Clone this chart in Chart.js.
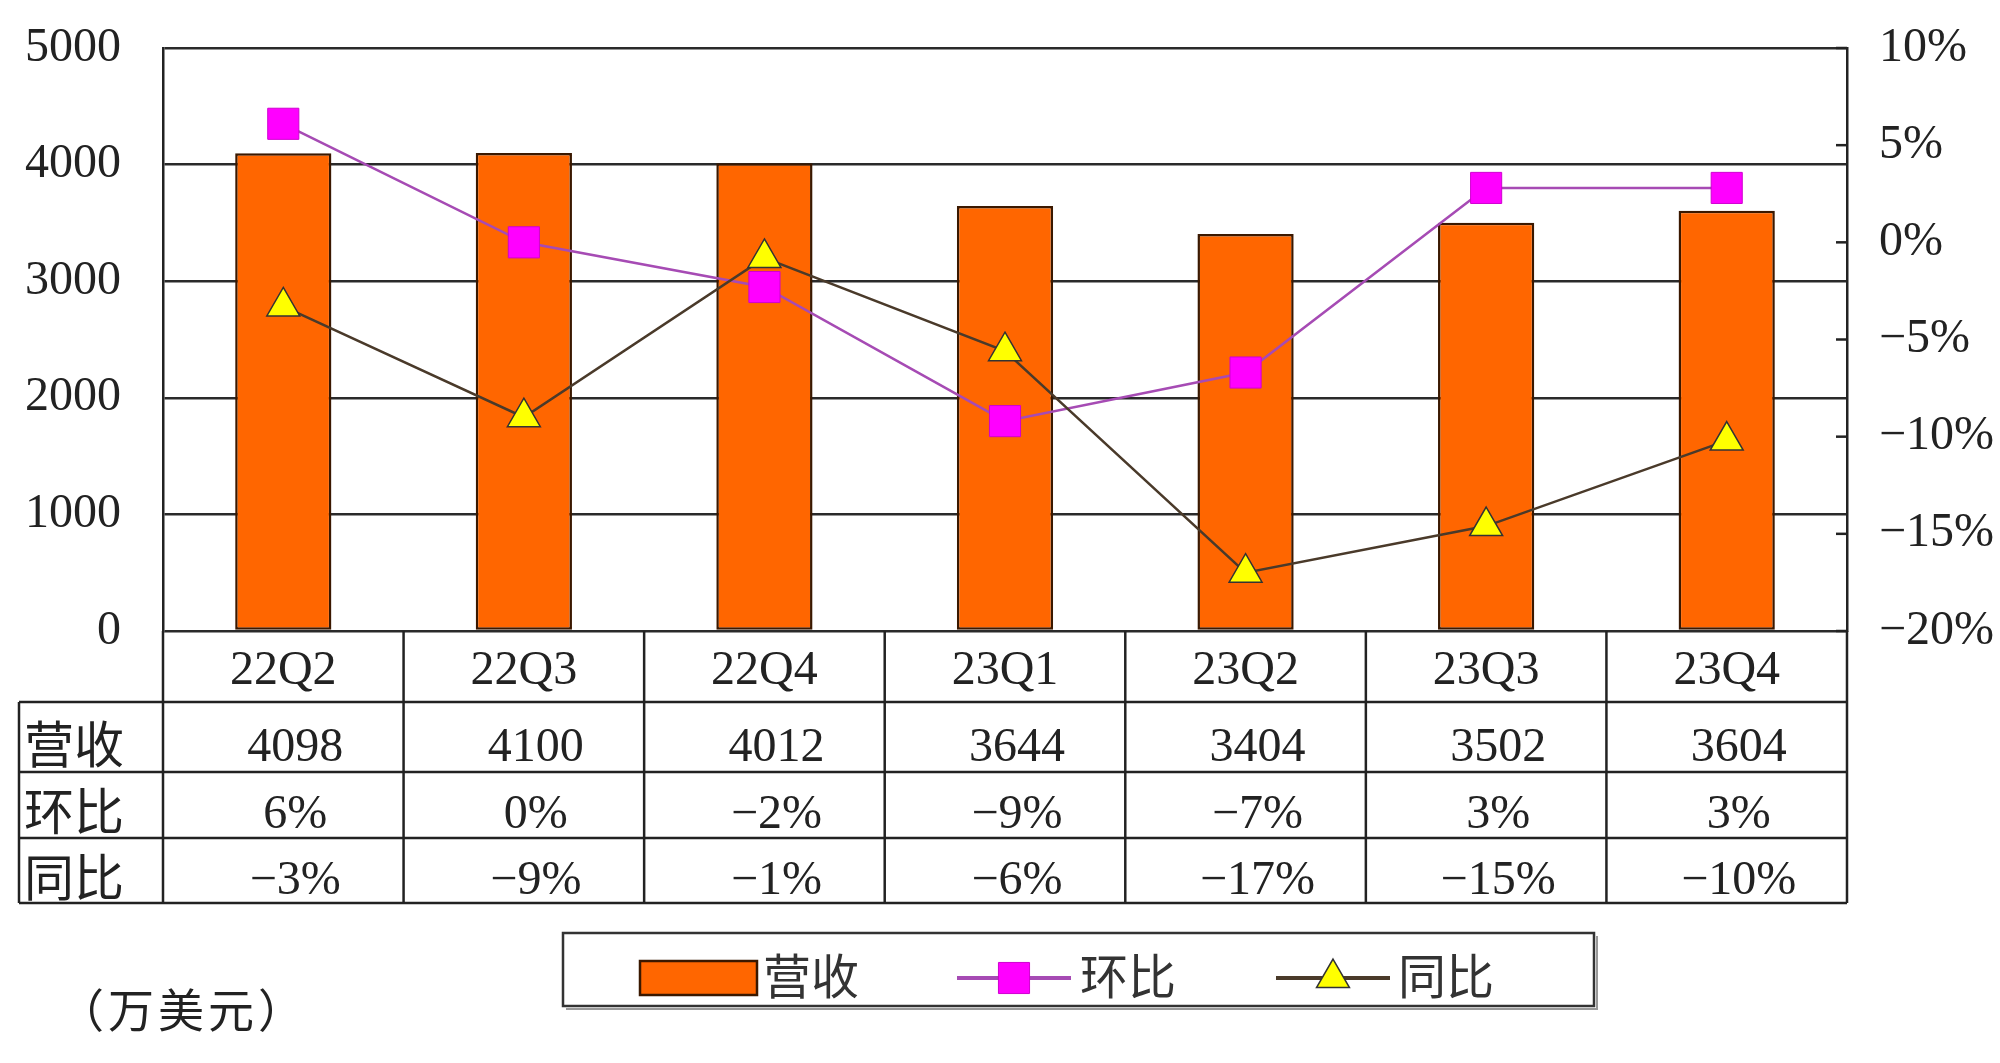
<!DOCTYPE html>
<html lang="zh">
<head>
    <meta charset="UTF-8">
    <meta name="viewport" content="width=device-width, initial-scale=1.0">
    <title>营收 环比 同比</title>
    <script src="https://cdn.jsdelivr.net/npm/chart.js"></script>
    <style>
        body {
            margin: 0;
            background: #fff;
        }
        .wrap {
            width: 2000px;
            height: 1063px;
            position: relative;
        }
    </style>
</head>
<body>

<div class="wrap">
    <canvas id="receitaChart"></canvas>
</div>

<script>
    const quarters = ['22Q2', '22Q3', '22Q4', '23Q1', '23Q2', '23Q3', '23Q4'];
    const revenue = [4098, 4100, 4012, 3644, 3404, 3502, 3604];
    const qoq = [6.1, 0.0, -2.3, -9.2, -6.7, 2.8, 2.8];       // 环比 %
    const yoy = [-3.3, -9.0, -0.8, -5.6, -17.0, -14.6, -10.2]; // 同比 %
    const revTicks = [0, 1000, 2000, 3000, 4000, 5000];
    const pctTicks = [-20, -15, -10, -5, 0, 5, 10];

    const NUM_FONT = '"Liberation Serif", "DejaVu Serif", serif';
    const CJK_FONT = '"Noto Sans CJK SC", sans-serif';
    const INK = '#222';

    const pct = v => (v < 0 ? '\u2212' : '') + Math.abs(v) + '%';

    // tabela de dados abaixo do eixo x
    const tablePlugin = {
        id: 'dataTable',
        afterDraw(chart) {
            const { ctx, chartArea, scales } = chart;
            const x = scales.x, y1 = scales.y1;
            const colW = x.width / quarters.length;
            const leftEdge = 19;
            const rows = [
                { name: '营收', top: 702, bottom: 772, textY: 748, cells: revenue.map(String) },
                { name: '环比', top: 772, bottom: 838, textY: 815, cells: qoq.map(v => pct(Math.round(v))) },
                { name: '同比', top: 838, bottom: 903, textY: 881, cells: yoy.map(v => pct(Math.round(v))) }
            ];
            const tableBottom = rows[rows.length - 1].bottom;

            ctx.save();
            ctx.strokeStyle = INK;
            ctx.lineWidth = 2.5;

            // linhas horizontais
            rows.forEach(r => {
                ctx.beginPath();
                ctx.moveTo(leftEdge, r.top);
                ctx.lineTo(chartArea.right, r.top);
                ctx.stroke();
            });
            ctx.beginPath();
            ctx.moveTo(leftEdge, tableBottom);
            ctx.lineTo(chartArea.right, tableBottom);
            ctx.stroke();

            // linhas verticais
            ctx.beginPath();
            ctx.moveTo(leftEdge, rows[0].top);
            ctx.lineTo(leftEdge, tableBottom);
            ctx.stroke();
            for (let i = 0; i <= quarters.length; i++) {
                const px = x.getPixelForValue(i) - colW / 2;
                ctx.beginPath();
                ctx.moveTo(px, chartArea.bottom);
                ctx.lineTo(px, tableBottom);
                ctx.stroke();
            }

            // textos
            ctx.fillStyle = INK;
            ctx.textBaseline = 'middle';
            rows.forEach(r => {
                ctx.font = '50px ' + CJK_FONT;
                ctx.textAlign = 'left';
                ctx.fillText(r.name, 24, r.textY - 4);
                ctx.font = '48px ' + NUM_FONT;
                ctx.textAlign = 'center';
                r.cells.forEach((c, i) => {
                    ctx.fillText(c, x.getPixelForValue(i) + 12, r.textY);
                });
            });

            // marcas do eixo direito (para dentro)
            y1.ticks.forEach(t => {
                const py = y1.getPixelForValue(t.value);
                ctx.beginPath();
                ctx.moveTo(chartArea.right - 11, py);
                ctx.lineTo(chartArea.right, py);
                ctx.stroke();
            });
            ctx.restore();
        }
    };

    // legenda com moldura + unidade
    const legendPlugin = {
        id: 'boxLegend',
        afterDraw(chart) {
            const ctx = chart.ctx;
            const ds = chart.data.datasets;
            const midY = 978;
            ctx.save();

            ctx.strokeStyle = '#333';
            ctx.lineWidth = 2.5;
            ctx.strokeRect(563, 933, 1031, 73);
            ctx.strokeStyle = '#999';
            ctx.lineWidth = 2;
            ctx.beginPath();
            ctx.moveTo(566, 1009);
            ctx.lineTo(1597, 1009);
            ctx.lineTo(1597, 936);
            ctx.stroke();

            // 营收
            ctx.fillStyle = ds[0].backgroundColor;
            ctx.fillRect(640, 961, 117, 34);
            ctx.strokeStyle = ds[0].borderColor;
            ctx.lineWidth = 2.5;
            ctx.strokeRect(640, 961, 117, 34);

            // 环比 e 同比
            [[1, 957, 1071], [2, 1276, 1390]].forEach(([k, x0, x1]) => {
                const d = ds[k];
                ctx.strokeStyle = d.borderColor;
                ctx.lineWidth = 4;
                ctx.beginPath();
                ctx.moveTo(x0, midY);
                ctx.lineTo(x1, midY);
                ctx.stroke();
                ctx.fillStyle = d.pointBackgroundColor;
                ctx.strokeStyle = d.pointBorderColor;
                ctx.lineWidth = d.pointBorderWidth;
                Chart.helpers.drawPoint(ctx, {
                    pointStyle: d.pointStyle, radius: d.pointRadius, rotation: 0, borderWidth: d.pointBorderWidth
                }, (x0 + x1) / 2, midY);
            });

            ctx.fillStyle = '#333';
            ctx.textBaseline = 'middle';
            ctx.textAlign = 'left';
            ctx.font = '48px ' + CJK_FONT;
            ctx.fillText(ds[0].label, 763, midY - 2);
            ctx.fillText(ds[1].label, 1080, midY - 2);
            ctx.fillText(ds[2].label, 1398, midY - 2);

            ctx.font = '46px ' + CJK_FONT;
            ctx.fillStyle = INK;
            ctx.letterSpacing = '4px';
            ctx.fillText('（万美元）', 58, 1010);
            ctx.restore();
        }
    };

    // largura fixa do eixo e sem folga extra em cima/embaixo
    const fixAxis = w => s => {
        s.width = w;
        s.paddingTop = 0;
        s.paddingBottom = 0;
    };

    const ctx = document.getElementById('receitaChart').getContext('2d');
    new Chart(ctx, {
        type: 'bar',
        data: {
            labels: quarters,
            datasets: [
                {
                    type: 'bar',
                    label: '营收',
                    data: revenue,
                    yAxisID: 'y',
                    backgroundColor: '#FF6600',
                    borderColor: '#3a1800',
                    borderWidth: 2.5,
                    borderSkipped: false,
                    barPercentage: 0.4,
                    categoryPercentage: 1.0,
                    order: 3
                },
                {
                    type: 'line',
                    label: '环比',
                    data: qoq,
                    yAxisID: 'y1',
                    borderColor: '#a64bb4',
                    borderWidth: 2.5,
                    tension: 0,
                    pointStyle: 'rect',
                    pointRadius: 22,
                    pointBackgroundColor: '#FF00FF',
                    pointBorderColor: '#d000d0',
                    pointBorderWidth: 1,
                    order: 2
                },
                {
                    type: 'line',
                    label: '同比',
                    data: yoy,
                    yAxisID: 'y1',
                    borderColor: '#4a3a2a',
                    borderWidth: 2.5,
                    tension: 0,
                    pointStyle: 'triangle',
                    pointRadius: 19,
                    pointBackgroundColor: '#FFFF00',
                    pointBorderColor: '#333',
                    pointBorderWidth: 1.5,
                    order: 1
                }
            ]
        },
        options: {
            responsive: true,
            maintainAspectRatio: false,
            animation: false,
            layout: {
                padding: { top: 48, bottom: 361, left: 0, right: 0 }
            },
            plugins: {
                legend: { display: false },
                tooltip: { enabled: false }
            },
            scales: {
                x: {
                    afterFit: s => { s.height = 71; },
                    grid: { display: false },
                    border: { display: false },
                    ticks: {
                        color: INK,
                        padding: 4,
                        font: { family: NUM_FONT, size: 48 }
                    }
                },
                y: {
                    position: 'left',
                    min: 0,
                    max: 5000,
                    afterFit: fixAxis(163),
                    afterBuildTicks: s => { s.ticks = revTicks.map(v => ({ value: v })); },
                    grid: { color: '#2a2a2a', lineWidth: 2.5, drawTicks: false },
                    border: { color: INK, width: 2.5 },
                    ticks: {
                        color: INK,
                        padding: 42,
                        font: { family: NUM_FONT, size: 48 },
                        callback: v => String(v)
                    }
                },
                y1: {
                    position: 'right',
                    min: -20,
                    max: 10,
                    afterFit: fixAxis(153),
                    afterBuildTicks: s => { s.ticks = pctTicks.map(v => ({ value: v })); },
                    grid: { drawOnChartArea: false, drawTicks: false },
                    border: { color: INK, width: 2.5 },
                    ticks: {
                        color: INK,
                        padding: 32,
                        font: { family: NUM_FONT, size: 48 },
                        callback: v => pct(v)
                    }
                }
            }
        },
        plugins: [tablePlugin, legendPlugin]
    });
</script>

</body>
</html>
